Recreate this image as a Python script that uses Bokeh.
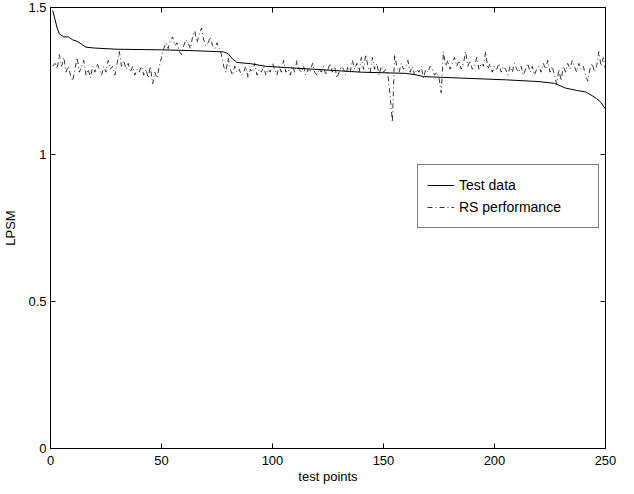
from bokeh.plotting import figure
from bokeh.models import (Range1d, FixedTicker, LinearAxis, Legend, LegendItem,
                          NumeralTickFormatter, CustomJSTickFormatter)
from bokeh.embed import file_html
from bokeh.resources import INLINE

# ---- data ----
test_x = [1, 2, 3, 4, 6, 8, 10, 12, 14, 16, 20, 30, 50, 65, 78, 80, 82, 84, 90, 97,
          110, 125, 140, 160, 164, 168, 188, 205, 220, 227, 232, 237, 241, 244, 246,
          248, 249, 250]
test_y = [1.49, 1.46, 1.43, 1.41, 1.40, 1.40, 1.39, 1.385, 1.375, 1.365, 1.362, 1.358,
          1.356, 1.353, 1.349, 1.343, 1.325, 1.313, 1.309, 1.300, 1.294, 1.287, 1.280,
          1.276, 1.272, 1.265, 1.259, 1.254, 1.248, 1.242, 1.226, 1.218, 1.213, 1.200,
          1.190, 1.177, 1.165, 1.155]

rs_x = list(range(1, 251))
rs_y = [
    1.30, 1.31, 1.29, 1.34, 1.30, 1.33, 1.28, 1.30, 1.27, 1.25,
    1.29, 1.33, 1.28, 1.30, 1.32, 1.27, 1.29, 1.26, 1.30, 1.28,
    1.31, 1.29, 1.27, 1.30, 1.28, 1.32, 1.29, 1.30, 1.27, 1.31,
    1.35, 1.30, 1.32, 1.29, 1.31, 1.28, 1.30, 1.27, 1.29, 1.28,
    1.30, 1.27, 1.29, 1.26, 1.30, 1.24, 1.28, 1.26, 1.30, 1.33,
    1.36, 1.38, 1.36, 1.39, 1.40, 1.37, 1.38, 1.35, 1.34, 1.37,
    1.39, 1.38, 1.36, 1.40, 1.42, 1.38, 1.41, 1.43, 1.39, 1.37,
    1.38, 1.40, 1.37, 1.36, 1.38, 1.36, 1.34, 1.30, 1.28, 1.33,
    1.29, 1.27, 1.30, 1.28, 1.29, 1.27, 1.28, 1.30, 1.26, 1.29,
    1.28, 1.31, 1.27, 1.29, 1.28, 1.30, 1.27, 1.29, 1.28, 1.31,
    1.29, 1.27, 1.30, 1.28, 1.32, 1.28, 1.29, 1.27, 1.30, 1.28,
    1.32, 1.29, 1.28, 1.30, 1.27, 1.29, 1.28, 1.31, 1.28, 1.27,
    1.29, 1.28, 1.30, 1.27, 1.29, 1.31, 1.28, 1.30, 1.26, 1.28,
    1.30, 1.29, 1.27, 1.30, 1.28, 1.32, 1.29, 1.31, 1.28, 1.33,
    1.29, 1.34, 1.30, 1.28, 1.33, 1.29, 1.31, 1.27, 1.30, 1.28,
    1.29, 1.27, 1.20, 1.11, 1.34, 1.30, 1.28, 1.31, 1.29, 1.30,
    1.32, 1.28, 1.30, 1.27, 1.29, 1.28, 1.30, 1.26, 1.29, 1.28,
    1.30, 1.29, 1.27, 1.28, 1.26, 1.21, 1.35, 1.30, 1.32, 1.29,
    1.31, 1.33, 1.30, 1.32, 1.29, 1.31, 1.35, 1.30, 1.32, 1.29,
    1.30, 1.33, 1.29, 1.31, 1.30, 1.35, 1.29, 1.31, 1.28, 1.30,
    1.29, 1.31, 1.28, 1.30, 1.29, 1.27, 1.30, 1.28, 1.31, 1.29,
    1.28, 1.30, 1.27, 1.29, 1.31, 1.28, 1.30, 1.27, 1.29, 1.30,
    1.28, 1.31, 1.29, 1.32, 1.28, 1.30, 1.27, 1.24, 1.29, 1.25,
    1.30, 1.28, 1.31, 1.29, 1.32, 1.30, 1.28, 1.31, 1.29, 1.30,
    1.27, 1.25, 1.29, 1.31, 1.28, 1.30, 1.35, 1.30, 1.33, 1.29,
]

x_ticks = [0, 50, 100, 150, 200, 250]
y_ticks = [0, 0.5, 1, 1.5]

FONT = "Liberation Sans"
FS = "13px"

p = figure(width=618, height=486, x_range=Range1d(0, 250), y_range=Range1d(0, 1.5),
           output_backend="svg", toolbar_location=None,
           min_border_left=48, min_border_right=13, min_border_top=7, min_border_bottom=38)
p.xgrid.visible = False
p.ygrid.visible = False
p.outline_line_color = "black"
p.outline_line_width = 1
p.background_fill_color = "white"
p.border_fill_color = "white"

r1 = p.line(test_x, test_y, line_color="black", line_width=1)
r2 = p.line(rs_x, rs_y, line_color="black", line_width=0.8, line_dash="5 3 1 3")

def style_axis(ax, ticks, show_labels=True):
    ax.ticker = FixedTicker(ticks=ticks)
    ax.major_tick_in = 5
    ax.major_tick_out = 0
    ax.minor_tick_in = 0
    ax.minor_tick_out = 0
    ax.axis_line_color = "black"
    ax.major_tick_line_color = "black"
    ax.major_label_text_font = FONT
    ax.major_label_text_color = "black"
    ax.major_label_text_font_size = FS
    ax.axis_label_text_font = FONT
    ax.axis_label_text_font_style = "normal"
    ax.axis_label_text_font_size = FS
    ax.axis_label_text_color = "black"
    if not show_labels:
        ax.formatter = CustomJSTickFormatter(code="return '';")
        ax.major_label_standoff = 0

xa = p.xaxis[0]
style_axis(xa, x_ticks)
xa.axis_label = "test points"
xa.major_label_standoff = 7
xa.axis_label_standoff = 1

ya = p.yaxis[0]
style_axis(ya, y_ticks)
ya.formatter = NumeralTickFormatter(format="0.[0]")
ya.axis_label = "LPSM"
ya.major_label_standoff = 4
ya.axis_label_standoff = 7

top = LinearAxis()
style_axis(top, x_ticks, show_labels=False)
p.add_layout(top, "above")
right = LinearAxis()
style_axis(right, y_ticks, show_labels=False)
p.add_layout(right, "right")

legend = Legend(items=[LegendItem(label="Test data", renderers=[r1]),
                       LegendItem(label="RS performance", renderers=[r2])],
                location=(367, 220))
legend.label_text_font = FONT
legend.label_text_font_size = "14px"
legend.label_text_color = "black"
legend.border_line_color = "black"
legend.border_line_width = 1
legend.background_fill_color = "white"
legend.background_fill_alpha = 1
legend.padding = 9
legend.spacing = 0
legend.label_height = 22
legend.glyph_height = 22
legend.glyph_width = 27
legend.label_standoff = 5
legend.label_width = 130
legend.margin = 0
p.add_layout(legend)

open("out.html", "w").write(file_html(p, INLINE))
